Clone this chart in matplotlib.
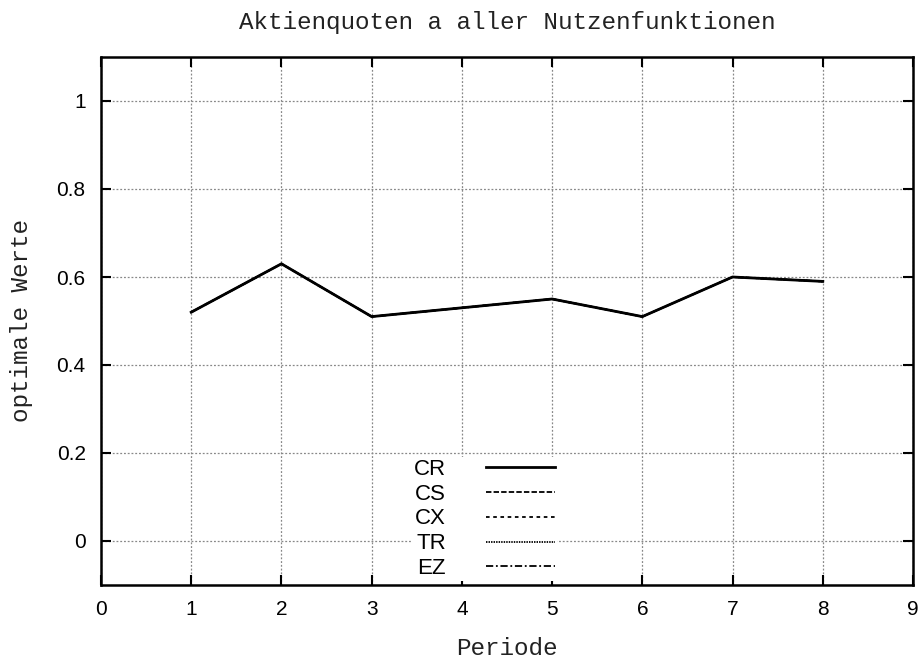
import matplotlib
matplotlib.use("Agg")
import matplotlib.pyplot as plt

# data
periods = [1, 2, 3, 4, 5, 6, 7, 8]
quote_cr = [0.52, 0.63, 0.51, 0.53, 0.55, 0.51, 0.60, 0.59]
quote_cs = [0.52, 0.63, 0.51, 0.53, 0.55, 0.51, 0.60, 0.59]
quote_cx = [0.52, 0.63, 0.51, 0.53, 0.55, 0.51, 0.60, 0.59]
quote_tr = [0.52, 0.63, 0.51, 0.53, 0.55, 0.51, 0.60, 0.59]
quote_ez = [0.52, 0.63, 0.51, 0.53, 0.55, 0.51, 0.60, 0.59]
xticks = [0, 1, 2, 3, 4, 5, 6, 7, 8, 9]
yticks = [0, 0.2, 0.4, 0.6, 0.8, 1]
ytick_labels = ["0", "0.2", "0.4", "0.6", "0.8", "1"]

mono = "Liberation Mono"
sans = "Liberation Sans"

fig = plt.figure(figsize=(9.24, 6.6), dpi=100)
ax = fig.add_axes([101 / 924, 1 - 585 / 660, (913 - 101) / 924, (585 - 57) / 660])

styles = [
    ("CS", quote_cs, (0, (3, 1.2))),
    ("CX", quote_cx, (0, (2, 2))),
    ("TR", quote_tr, (0, (0.8, 0.6))),
    ("EZ", quote_ez, (0, (4, 1.5, 1, 1.5))),
]
handles = {}
for name, vals, ls in styles:
    handles[name], = ax.plot(periods, vals, color="black", lw=1.3, ls=ls, zorder=2)
handles["CR"], = ax.plot(periods, quote_cr, color="black", lw=2, zorder=3)

ax.set_xlim(0, 9)
ax.set_ylim(-0.1, 1.1)
ax.set_xticks(xticks)
ax.set_xticklabels([str(t) for t in xticks], family=sans, fontsize=15)
ax.set_yticks(yticks)
ax.set_yticklabels(ytick_labels, family=sans, fontsize=15)
ax.tick_params(direction="in", length=7, width=1.5, top=True, right=True,
               pad=11)
for sp in ax.spines.values():
    sp.set_linewidth(1.8)

ax.grid(True, color="#888888", ls=(0, (1.5, 1.5)), lw=0.9)

ax.set_title("Aktienquoten a aller Nutzenfunktionen", family=mono,
             fontsize=17.5, pad=20, color="#222222")
ax.set_xlabel("Periode", family=mono, fontsize=17.5, labelpad=13,
              color="#222222")
ax.set_ylabel("optimale Werte", family=mono, fontsize=17.5, labelpad=17,
              color="#222222")

order = ["CR", "CS", "CX", "TR", "EZ"]
leg = ax.legend([handles[k] for k in order], order, loc="center",
                bbox_to_anchor=(0.472, 0.125), markerfirst=False,
                frameon=True, prop={"family": sans, "size": 16},
                handlelength=3.1, handletextpad=1.8, labelspacing=0.17,
                borderpad=0.1, framealpha=1)
leg.get_frame().set_edgecolor("white")
leg.get_frame().set_linewidth(0)
leg.set_zorder(2.4)

fig.savefig("out.png", dpi=100)
